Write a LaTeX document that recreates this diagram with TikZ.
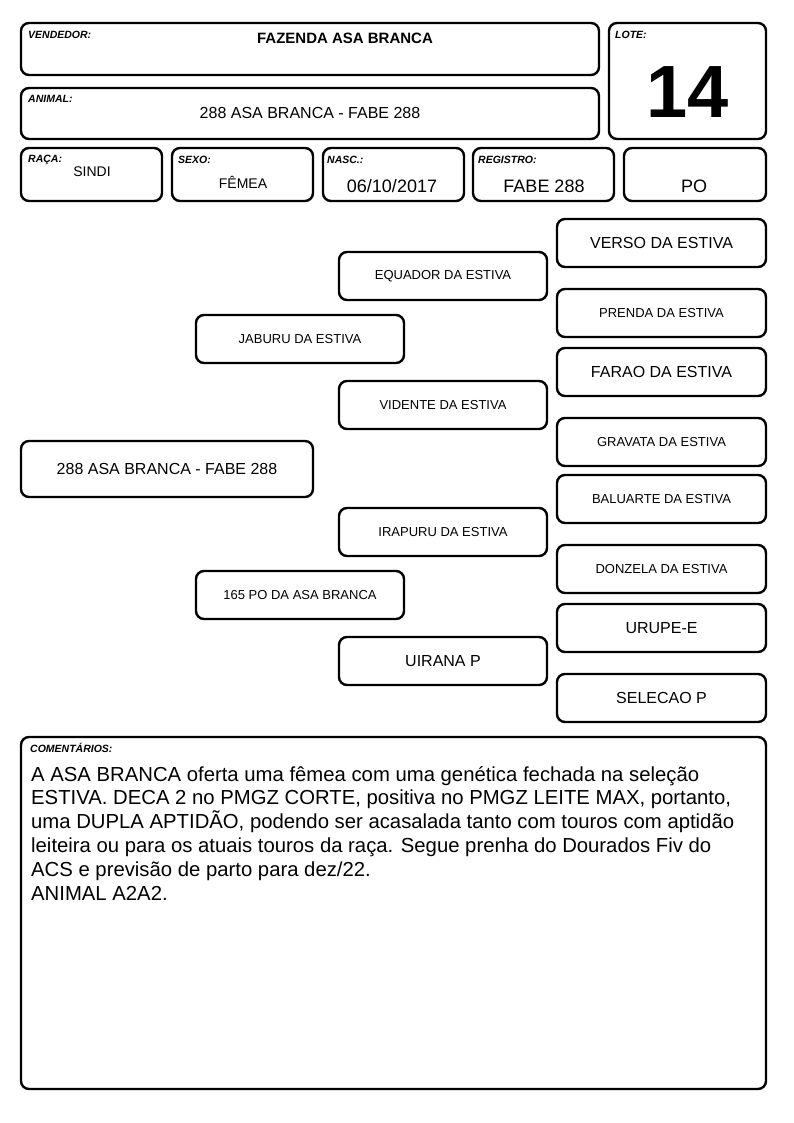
\documentclass[tikz,border=0pt]{standalone}
\usepackage{fontspec}
\setmainfont{Liberation Sans}
\newcommand\fs[1]{\fontsize{#1}{#1}\selectfont}
\tikzset{
  box/.style={draw, line width=2.4pt, rounded corners=8pt, inner sep=0pt, outer sep=0pt},
  lab/.style={font=\fs{10.5}\bfseries\itshape, anchor=base west, inner sep=0pt},
  val/.style={anchor=base, inner sep=0pt},
  rbox/.style={box, minimum width=209pt, minimum height=48pt},
  mbox/.style={box, minimum width=208pt, minimum height=48pt},
  small/.style={font=\fs{13}},
  big/.style={font=\fs{16}},
  cline/.style={anchor=base west, inner sep=0pt, font=\fs{20.3}}
}
\begin{document}
\begin{tikzpicture}[x=1pt,y=-1pt]
\useasboundingbox (0,0) rectangle (794,1123);
% header boxes
\node[box, minimum width=578pt, minimum height=52pt] (vend) at (310,49) {};
\node[box, minimum width=157pt, minimum height=116pt] (lote) at (687.5,81) {};
\node[box, minimum width=578pt, minimum height=51pt] (anim) at (310,113.5) {};
\node[box, minimum width=141pt, minimum height=53pt] (raca) at (91.5,174.5) {};
\node[box, minimum width=141pt, minimum height=53pt] (sexo) at (242.5,174.5) {};
\node[box, minimum width=141pt, minimum height=53pt] (nasc) at (393.5,174.5) {};
\node[box, minimum width=141pt, minimum height=53pt] (reg) at (543.5,174.5) {};
\node[box, minimum width=142pt, minimum height=53pt] (po) at (695,174.5) {};
% labels
\node[lab] (lvend) at (28,39) {VENDEDOR:};
\node[lab] (llote) at (615,39) {LOTE:};
\node[lab] (lanim) at (28,103) {ANIMAL:};
\node[lab] (lraca) at (28,163) {RAÇA:};
\node[lab] (lsexo) at (178,164) {SEXO:};
\node[lab] (lnasc) at (327,164) {NASC.:};
\node[lab] (lreg) at (478,164) {REGISTRO:};
% values
\node[val, font=\fs{15}\bfseries] (tvend) at (345,43.5) {FAZENDA ASA BRANCA};
\node[val, font=\fs{74}\bfseries] (tlote) at (688,118) {14};
\node[val, font=\fs{16}] (tanim) at (310,119) {288 ASA BRANCA - FABE 288};
\node[val, font=\fs{14}] (traca) at (92,177) {SINDI};
\node[val, font=\fs{14}] (tsexo) at (243,189) {FÊMEA};
\node[val, font=\fs{18}] (tnasc) at (392,192.5) {06/10/2017};
\node[val, font=\fs{18}] (treg) at (544,192.5) {FABE 288};
\node[val, font=\fs{18}] (tpo) at (694,192.5) {PO};
% pedigree
\node[rbox, big] (verso) at (661.5,243) {VERSO DA ESTIVA};
\node[mbox, small] (equador) at (443,276) {EQUADOR DA ESTIVA};
\node[rbox, small] (prenda) at (661.5,313) {PRENDA DA ESTIVA};
\node[mbox, small] (jaburu) at (300,339) {JABURU DA ESTIVA};
\node[rbox, big] (farao) at (661.5,372) {FARAO DA ESTIVA};
\node[mbox, small] (vidente) at (443,405) {VIDENTE DA ESTIVA};
\node[rbox, small] (gravata) at (661.5,442) {GRAVATA DA ESTIVA};
\node[box, big, minimum width=292pt, minimum height=56pt] (main) at (167,469) {288 ASA BRANCA - FABE 288};
\node[rbox, small] (baluarte) at (661.5,499) {BALUARTE DA ESTIVA};
\node[mbox, small] (irapuru) at (443,532) {IRAPURU DA ESTIVA};
\node[rbox, small] (donzela) at (661.5,569) {DONZELA DA ESTIVA};
\node[mbox, small] (po165) at (300,595) {165 PO DA ASA BRANCA};
\node[rbox, big] (urupe) at (661.5,628) {URUPE-E};
\node[mbox, big] (uirana) at (443,661) {UIRANA P};
\node[rbox, big] (selecao) at (661.5,698) {SELECAO P};
% comments
\node[box, minimum width=745pt, minimum height=352pt] (coment) at (393.5,913) {};
\node[lab] (lcoment) at (30,752) {COMENTÁRIOS:};
\node[cline] (c1) at (31,781) {A ASA BRANCA oferta uma fêmea com uma genética fechada na seleção};
\node[cline] (c2) at (31,804.8) {ESTIVA. DECA 2 no PMGZ CORTE, positiva no PMGZ LEITE MAX, portanto,};
\node[cline] (c3) at (31,828.6) {uma DUPLA APTIDÃO, podendo ser acasalada tanto com touros com aptidão};
\node[cline] (c4) at (31,852.4) {leiteira ou para os atuais touros da raça. Segue prenha do Dourados Fiv do};
\node[cline] (c5) at (31,876.2) {ACS e previsão de parto para dez/22.};
\node[cline] (c6) at (31,900) {ANIMAL A2A2.};
\end{tikzpicture}
\end{document}
